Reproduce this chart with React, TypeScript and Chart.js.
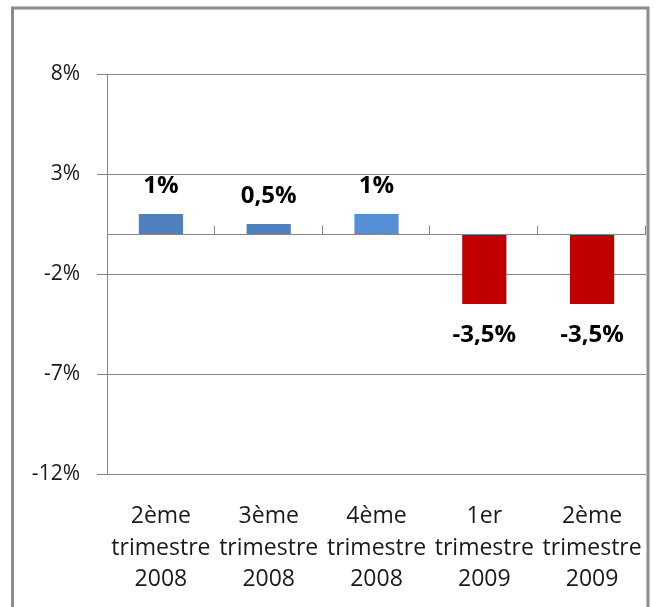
import React, { useEffect, useRef } from "react";
import { Chart, registerables } from "chart.js";
Chart.register(...registerables);

const categories: string[][] = [
  ["2ème", "trimestre", "2008"],
  ["3ème", "trimestre", "2008"],
  ["4ème", "trimestre", "2008"],
  ["1er", "trimestre", "2009"],
  ["2ème", "trimestre", "2009"],
];
const values: number[] = [1, 0.5, 1, -3.5, -3.5];
const barColors: string[] = ["#4F81BD", "#4F81BD", "#558ED5", "#C00000", "#C00000"];
const yTickValues: number[] = [8, 3, -2, -7, -12];
const yMin = -12;
const yMax = 8;

const FONT = "'Open Sans', 'DejaVu Sans', sans-serif";
const GRID = "#868686";

const fmt = (v: number) => String(v).replace(".", ",") + "%";

const framePlugin = {
  id: "frame",
  beforeDraw(chart: any) {
    const ctx = chart.ctx;
    ctx.save();
    ctx.strokeStyle = "#8c8c8c";
    ctx.lineWidth = 3;
    ctx.strokeRect(12.5, 8, 635.5, 700);
    ctx.restore();
  },
};

const zeroLinePlugin = {
  id: "zeroLine",
  afterDatasetsDraw(chart: any) {
    const ctx = chart.ctx;
    const x = chart.scales.x;
    const y = chart.scales.y;
    const y0 = Math.round(y.getPixelForValue(0)) + 0.5;
    ctx.save();
    ctx.strokeStyle = GRID;
    ctx.lineWidth = 1;
    ctx.beginPath();
    ctx.moveTo(chart.chartArea.left, y0);
    ctx.lineTo(chart.chartArea.right, y0);
    const n = categories.length;
    const w = (x.right - x.left) / n;
    for (let i = 1; i <= n; i++) {
      const xi = Math.round(x.left + i * w) - 0.5;
      ctx.moveTo(xi, y0);
      ctx.lineTo(xi, y0 - 9);
    }
    ctx.stroke();
    ctx.restore();
  },
};

const labelPlugin = {
  id: "valueLabels",
  afterDatasetsDraw(chart: any) {
    const ctx = chart.ctx;
    const meta = chart.getDatasetMeta(0);
    ctx.save();
    ctx.font = `bold 24px ${FONT}`;
    ctx.fillStyle = "#000";
    ctx.textAlign = "center";
    ctx.textBaseline = "middle";
    meta.data.forEach((bar: any, i: number) => {
      const v = values[i];
      const yPos = v >= 0 ? bar.y - 28 : bar.y + 31;
      ctx.fillText(fmt(v), bar.x, yPos);
    });
    ctx.restore();
  },
};

export default function App() {
  const ref = useRef<HTMLCanvasElement | null>(null);
  useEffect(() => {
    if (!ref.current) return;
    const chart = new Chart(ref.current, {
      type: "bar",
      data: {
        labels: categories,
        datasets: [
          {
            data: values,
            backgroundColor: barColors,
            borderWidth: 0,
            categoryPercentage: 1,
            barPercentage: 0.41,
          },
        ],
      },
      options: {
        animation: false,
        responsive: true,
        maintainAspectRatio: false,
        layout: { padding: { top: 74, right: 12, bottom: 0, left: 0 } },
        plugins: { legend: { display: false }, tooltip: { enabled: false } },
        scales: {
          x: {
            grid: { display: false, drawTicks: false },
            border: { display: false },
            ticks: {
              color: "#1a1a1a",
              font: { family: FONT, size: 23, lineHeight: 1.39 },
              padding: 26,
              maxRotation: 0,
              minRotation: 0,
              autoSkip: false,
            },
            afterFit: (s: any) => {
              s.height = 133;
              s.paddingLeft = 0;
              s.paddingRight = 0;
            },
          },
          y: {
            min: yMin,
            max: yMax,
            grid: { color: GRID, lineWidth: 1, drawTicks: true, tickLength: 10, tickColor: GRID },
            border: { display: true, color: GRID, width: 1 },
            ticks: {
              color: "#1a1a1a",
              font: { family: FONT, size: 21 },
              padding: 17,
              callback: (v: any) => v + "%",
            },
            afterBuildTicks: (s: any) => {
              s.ticks = yTickValues.map((v) => ({ value: v }));
            },
            afterFit: (s: any) => {
              s.width = 107;
              s.paddingTop = 0;
              s.paddingBottom = 0;
            },
          },
        },
      },
      plugins: [framePlugin, zeroLinePlugin, labelPlugin],
    });
    return () => chart.destroy();
  }, []);
  return (
    <div style={{ position: "absolute", left: 0, top: 0, width: 658, height: 607, background: "#fff" }}>
      <canvas ref={ref} />
    </div>
  );
}
